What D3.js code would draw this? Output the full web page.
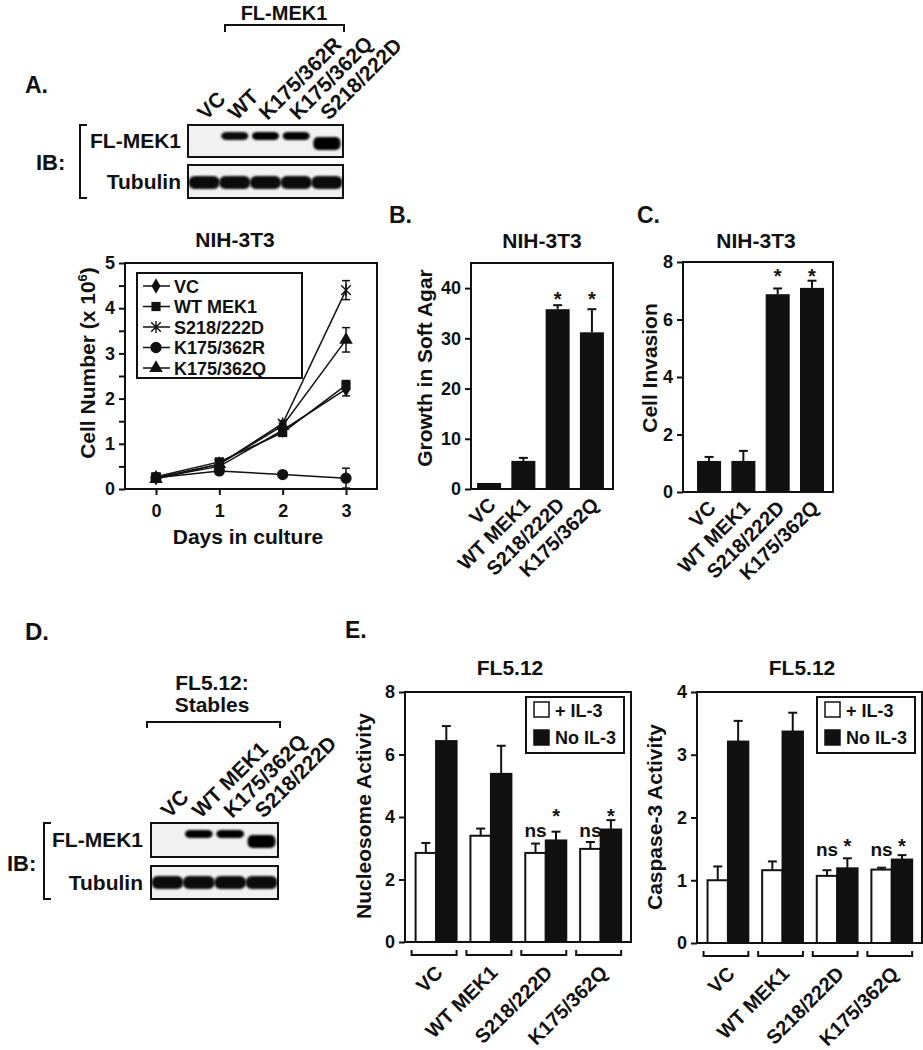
<!DOCTYPE html>
<html><head><meta charset="utf-8">
<script src="https://cdn.jsdelivr.net/npm/d3@7"></script>
<style>
body{margin:0;background:#fff}
svg{display:block}
text{font-family:"Liberation Sans",Arial,sans-serif;font-weight:bold;fill:#111}
</style></head><body>
<svg id="c" width="923" height="1050"></svg>
<script>
// ---------------- DATA ----------------
// Panel A blot
const blotALanes = ["VC","WT","K175/362R","K175/362Q","S218/222D"];
const blotAMek = [0, 0.9, 1, 1, 1];
const blotAShift = [0, 0, 0, 0, 1];
const blotATub = [1, 1, 1, 1, 1];
// Growth curve
const days = [0, 1, 2, 3];
const seriesNames = ["VC","WT MEK1","S218/222D","K175/362R","K175/362Q"];
const growthVC    = [0.25, 0.50, 1.30, 2.21];
const growthWT    = [0.27, 0.60, 1.25, 2.30];
const growthS218  = [0.25, 0.55, 1.45, 4.40];
const growthK175R = [0.25, 0.40, 0.32, 0.24];
const growthK175Q = [0.22, 0.55, 1.40, 3.30];
const errVC    = [0.03, 0.04, 0.06, 0.15];
const errWT    = [0.03, 0.04, 0.06, 0.10];
const errS218  = [0.03, 0.04, 0.06, 0.21];
const errK175R = [0.03, 0.04, 0.04, 0.22];
const errK175Q = [0.03, 0.04, 0.06, 0.27];
const growthTicks = [0, 1, 2, 3, 4, 5];
// B & C
const barCats = ["VC","WT MEK1","S218/222D","K175/362Q"];
const softAgar = [1.2, 5.6, 35.8, 31.2];
const softAgarErr = [0, 0.6, 0.8, 4.6];
const softAgarSig = ["", "", "*", "*"];
const softAgarTicks = [0, 10, 20, 30, 40];
const invasion = [1.08, 1.08, 6.88, 7.10];
const invasionErr = [0.14, 0.35, 0.20, 0.25];
const invasionSig = ["", "", "*", "*"];
const invasionTicks = [0, 2, 4, 6, 8];
// Panel D blot
const blotDLanes = ["VC","WT MEK1","K175/362Q","S218/222D"];
const blotDMek = [0, 1, 1, 1];
const blotDShift = [0, 0, 0, 1];
const blotDTub = [1, 1, 1, 1];
// Panel E
const eCats = ["VC","WT MEK1","S218/222D","K175/362Q"];
const eConds = ["+ IL-3","No IL-3"];
const nucPlus = [2.85, 3.40, 2.85, 2.98];
const nucPlusErr = [0.32, 0.23, 0.30, 0.22];
const nucNo = [6.43, 5.38, 3.25, 3.60];
const nucNoErr = [0.48, 0.90, 0.28, 0.30];
const nucTicks = [0, 2, 4, 6, 8];
const casPlus = [1.00, 1.16, 1.07, 1.17];
const casPlusErr = [0.22, 0.14, 0.09, 0.03];
const casNo = [3.21, 3.37, 1.19, 1.33];
const casNoErr = [0.33, 0.30, 0.16, 0.07];
const casTicks = [0, 1, 2, 3, 4];
const eSigPlus = ["", "", "ns", "ns"];
const eSigNo = ["", "", "*", "*"];

// ---------------- DRAW ----------------
const svg = d3.select("#c");
const INK = "#111";
const defs = svg.append("defs");
defs.append("filter").attr("id","blur").attr("x","-20%").attr("y","-50%").attr("width","140%").attr("height","200%")
  .append("feGaussianBlur").attr("stdDeviation", 1.3);

function txt(g, x, y, s, fs, anchor, rot) {
  const t = g.append("text").attr("x", x).attr("y", y).attr("font-size", fs)
    .attr("text-anchor", anchor || "start").text(s);
  if (rot) t.attr("transform", `rotate(${rot},${x},${y})`);
  return t;
}
function line(g, x1, y1, x2, y2, w) {
  return g.append("line").attr("x1",x1).attr("y1",y1).attr("x2",x2).attr("y2",y2)
    .attr("stroke", INK).attr("stroke-width", w || 2);
}
function yAxis(g, scale, ticks, x, fs, pad) {
  const ax = d3.axisLeft(scale).tickValues(ticks).tickSize(6).tickPadding(pad || 4).tickFormat(d3.format("d"));
  const a = g.append("g").attr("transform", `translate(${x},0)`).call(ax);
  a.attr("font-family", null).attr("font-size", null);
  a.select(".domain").remove();
  a.selectAll("line").attr("stroke", INK).attr("stroke-width", 2);
  a.selectAll("text").attr("font-size", fs).attr("fill", INK);
  return a;
}

// ----- Blot helper -----
function blot(cfg) {
  const g = svg.append("g");
  const x = d3.scaleBand().domain(cfg.lanes).range([cfg.x0, cfg.x1]).padding(0.05);
  [[cfg.fy0, cfg.fy1], [cfg.ty0, cfg.ty1]].forEach(([a, b]) => {
    g.append("rect").attr("x", cfg.x0).attr("y", a).attr("width", cfg.x1 - cfg.x0).attr("height", b - a)
      .attr("fill", "#f1f1f1").attr("stroke", INK).attr("stroke-width", 2);
  });
  g.selectAll(".mek").data(cfg.lanes.filter((d, i) => cfg.mek[i] > 0)).join("rect")
    .attr("x", d => x(d) + 1)
    .attr("width", x.bandwidth() - 2)
    .attr("y", d => { const i = cfg.lanes.indexOf(d); return cfg.shift[i] ? cfg.sy : cfg.ny; })
    .attr("height", d => { const i = cfg.lanes.indexOf(d); return cfg.shift[i] ? cfg.sh : cfg.nh; })
    .attr("rx", 5).attr("fill", "#000")
    .attr("opacity", d => 0.55 + 0.45 * cfg.mek[cfg.lanes.indexOf(d)])
    .attr("filter", "url(#blur)");
  g.selectAll(".tub").data(cfg.lanes).join("rect")
    .attr("x", d => x(d) - 1).attr("width", x.bandwidth() + 2)
    .attr("y", cfg.tby).attr("height", cfg.tbh).attr("rx", 6)
    .attr("fill", "#000").attr("opacity", (d, i) => 0.95 * cfg.tub[i])
    .attr("filter", "url(#blur)");
  cfg.lanes.forEach(d => {
    txt(g, x(d) + x.bandwidth() / 2 + 2, cfg.fy0 - 4, d, cfg.lfs, "start", -45);
  });
  txt(g, cfg.labX, (cfg.fy0 + cfg.fy1) / 2 + 7, "FL-MEK1", 21, "end");
  txt(g, cfg.labX, (cfg.ty0 + cfg.ty1) / 2 + 7, "Tubulin", 21, "end");
  g.append("path").attr("d", `M${cfg.bx + 7},${cfg.fy0}H${cfg.bx}V${cfg.ty1}H${cfg.bx + 7}`)
    .attr("fill", "none").attr("stroke", INK).attr("stroke-width", 2);
  txt(g, cfg.ibX, (cfg.fy1 + cfg.ty0) / 2 + 9, "IB:", 22, "start");
  return g;
}

// ===== Panel A =====
txt(svg, 25, 93, "A.", 23);
txt(svg, 284, 20, "FL-MEK1", 20, "middle");
svg.append("path").attr("d", "M225,32V25H344V32").attr("fill", "none").attr("stroke", INK).attr("stroke-width", 2);
blot({lanes: blotALanes, mek: blotAMek, shift: blotAShift, tub: blotATub,
  x0: 188, x1: 343, fy0: 125, fy1: 157, ty0: 165, ty1: 198,
  ny: 132, nh: 8, sy: 137, sh: 13, tby: 176, tbh: 13,
  lfs: 21, labX: 181, bx: 80, ibX: 36});

// ===== Growth curve =====
(function () {
  const g = svg.append("g");
  const x = d3.scaleLinear().domain([0, 3]).range([156, 346]);
  const y = d3.scaleLinear().domain([0, 5]).range([489, 263]);
  g.append("rect").attr("x", 125).attr("y", 263).attr("width", 252).attr("height", 226)
    .attr("fill", "none").attr("stroke", INK).attr("stroke-width", 2);
  yAxis(g, y, growthTicks, 125, 18, 4);
  const minor = d3.axisLeft(y).tickValues(growthTicks.slice(0, -1).map(d => d + 0.5)).tickSize(6).tickFormat("");
  const m = g.append("g").attr("transform", "translate(125,0)").call(minor);
  m.select(".domain").remove(); m.selectAll("line").attr("stroke", INK).attr("stroke-width", 2);
  const xa = g.append("g").attr("transform", "translate(0,489)")
    .call(d3.axisBottom(x).tickValues(days).tickSize(6).tickPadding(9).tickFormat(d3.format("d")));
  xa.attr("font-family", null).attr("font-size", null);
  xa.select(".domain").remove();
  xa.selectAll("line").attr("stroke", INK).attr("stroke-width", 2);
  xa.selectAll("text").attr("font-size", 18).attr("fill", INK);
  txt(g, 235, 247, "NIH-3T3", 21, "middle");
  txt(g, 248, 544, "Days in culture", 21, "middle");
  const yl = g.append("text").attr("font-size", 21).attr("text-anchor", "middle")
    .attr("transform", "translate(95,363) rotate(-90)");
  yl.append("tspan").text("Cell Number (x 10");
  yl.append("tspan").attr("font-size", 13).attr("dy", -8).text("6");
  yl.append("tspan").attr("dy", 8).text(")");

  const series = [
    {name: seriesNames[0], v: growthVC, e: errVC, sym: "diamond"},
    {name: seriesNames[1], v: growthWT, e: errWT, sym: "square"},
    {name: seriesNames[2], v: growthS218, e: errS218, sym: "star"},
    {name: seriesNames[3], v: growthK175R, e: errK175R, sym: "circle"},
    {name: seriesNames[4], v: growthK175Q, e: errK175Q, sym: "triangle"}
  ];
  function marker(sel, sym) {
    if (sym === "star") {
      const s = 6;
      sel.append("path").attr("d", `M0,${-s}V${s}M${-s * .8},${-s * .8}L${s * .8},${s * .8}M${-s * .8},${s * .8}L${s * .8},${-s * .8}`)
        .attr("stroke", INK).attr("stroke-width", 1.4).attr("fill", "none");
    } else {
      const t = {diamond: d3.symbolDiamond, square: d3.symbolSquare, circle: d3.symbolCircle, triangle: d3.symbolTriangle}[sym];
      const size = {diamond: 70, square: 85, circle: 100, triangle: 80}[sym];
      sel.append("path").attr("d", d3.symbol().type(t).size(size)()).attr("fill", INK);
    }
  }
  const ln = d3.line().x((d, i) => x(days[i])).y(d => y(d));
  series.forEach(s => {
    g.append("path").attr("d", ln(s.v)).attr("fill", "none").attr("stroke", INK).attr("stroke-width", 1.5);
  });
  series.forEach(s => {
    s.v.forEach((v, i) => {
      const cx = x(days[i]);
      line(g, cx, y(v - s.e[i]), cx, y(v + s.e[i]), 1.5);
      line(g, cx - 4, y(v - s.e[i]), cx + 4, y(v - s.e[i]), 1.5);
      line(g, cx - 4, y(v + s.e[i]), cx + 4, y(v + s.e[i]), 1.5);
      const mg = g.append("g").attr("transform", `translate(${cx},${y(v)})`);
      marker(mg, s.sym);
    });
  });
  const lg = g.append("g");
  lg.append("rect").attr("x", 137).attr("y", 273).attr("width", 165).attr("height", 105)
    .attr("fill", "#fff").attr("stroke", INK).attr("stroke-width", 2);
  series.forEach((s, i) => {
    const yy = 286 + i * 20.5;
    line(lg, 143, yy, 170, yy, 1.5);
    marker(lg.append("g").attr("transform", `translate(156,${yy})`), s.sym);
    txt(lg, 174, yy + 6.5, s.name, 18);
  });
})();

// ===== Single bar panels (B, C) =====
function barPanel(c) {
  const g = svg.append("g");
  const x = d3.scaleBand().domain(barCats).range([c.x0, c.x1]).paddingInner(0.3).paddingOuter(c.po).align(c.al);
  const y = d3.scaleLinear().domain([0, c.max]).range([c.yb, c.yt]);
  g.append("rect").attr("x", c.x0).attr("y", c.yt).attr("width", c.x1 - c.x0).attr("height", c.yb - c.yt)
    .attr("fill", "none").attr("stroke", INK).attr("stroke-width", 2);
  yAxis(g, y, c.ticks, c.x0, 18, 4);
  g.selectAll(".bar").data(barCats).join("rect")
    .attr("x", d => x(d)).attr("width", x.bandwidth())
    .attr("y", (d, i) => y(c.vals[i])).attr("height", (d, i) => c.yb - y(c.vals[i]))
    .attr("fill", INK);
  barCats.forEach((d, i) => {
    const cx = x(d) + x.bandwidth() / 2;
    if (c.errs[i] > 0) {
      line(g, cx, y(c.vals[i]), cx, y(c.vals[i] + c.errs[i]), 2);
      line(g, cx - 4.5, y(c.vals[i] + c.errs[i]), cx + 4.5, y(c.vals[i] + c.errs[i]), 2);
    }
    if (c.sig[i]) txt(g, cx, c.starY, c.sig[i], 20, "middle");
    txt(g, cx + 8, c.yb + 17, d, 20, "end", -45);
  });
  txt(g, c.tx, 248, "NIH-3T3", 21, "middle");
  txt(g, c.lx, c.ly, c.ylab, 21, "middle", -90);
  txt(g, c.px, 223, c.letter, 23);
}
barPanel({x0: 471, x1: 613, yt: 263, yb: 489, max: 45, ticks: softAgarTicks, vals: softAgar, errs: softAgarErr,
  sig: softAgarSig, po: 0.22, al: 0.4, starY: 306, tx: 542, lx: 432, ly: 368, ylab: "Growth in Soft Agar", px: 389, letter: "B."});
barPanel({x0: 683, x1: 833, yt: 262, yb: 492, max: 8, ticks: invasionTicks, vals: invasion, errs: invasionErr,
  sig: invasionSig, po: 0.335, al: 0.61, starY: 283, tx: 756, lx: 657, ly: 368, ylab: "Cell Invasion", px: 637, letter: "C."});

// ===== Panel D =====
txt(svg, 25, 640, "D.", 24);
txt(svg, 212, 690, "FL5.12:", 21, "middle");
txt(svg, 212, 712, "Stables", 21, "middle");
svg.append("path").attr("d", "M147,728V722H280V728").attr("fill", "none").attr("stroke", INK).attr("stroke-width", 2);
blot({lanes: blotDLanes, mek: blotDMek, shift: blotDShift, tub: blotDTub,
  x0: 151, x1: 278, fy0: 823, fy1: 857, ty0: 866, ty1: 899,
  ny: 830, nh: 8, sy: 835, sh: 13, tby: 876, tbh: 13,
  lfs: 21, labX: 143, bx: 44, ibX: 7});

// ===== Panel E =====
txt(svg, 345, 638, "E.", 23);
function groupPanel(c) {
  const g = svg.append("g");
  const x = d3.scaleBand().domain(eCats).range([c.x0, c.x1]).paddingInner(0.18).paddingOuter(0.15).align(0.4);
  const xi = d3.scaleBand().domain(eConds).range([4, x.bandwidth()]);
  const y = d3.scaleLinear().domain([0, c.max]).range([c.yb, c.yt]);
  g.append("rect").attr("x", c.x0).attr("y", c.yt).attr("width", c.x1 - c.x0).attr("height", c.yb - c.yt)
    .attr("fill", "none").attr("stroke", INK).attr("stroke-width", 2);
  yAxis(g, y, c.ticks, c.x0, 18, 4);
  const sets = [{v: c.plus, e: c.plusErr, fill: "#fff", cond: eConds[0], sig: eSigPlus, sy: c.nsY},
                {v: c.no, e: c.noErr, fill: INK, cond: eConds[1], sig: eSigNo, sy: c.starY}];
  eCats.forEach((d, i) => {
    sets.forEach(s => {
      const bx = x(d) + xi(s.cond), bw = xi.bandwidth();
      const cx = bx + bw / 2;
      line(g, cx, y(s.v[i]), cx, y(s.v[i] + s.e[i]), 2);
      line(g, cx - 4.5, y(s.v[i] + s.e[i]), cx + 4.5, y(s.v[i] + s.e[i]), 2);
      g.append("rect").attr("x", bx).attr("width", bw).attr("y", y(s.v[i])).attr("height", c.yb - y(s.v[i]))
        .attr("fill", s.fill).attr("stroke", INK).attr("stroke-width", 2);
      if (s.sig[i]) txt(g, cx, y(s.sy), s.sig[i], s.sig[i] === "*" ? 20 : 19, "middle");
    });
    const b0 = x(d), b1 = x(d) + x.bandwidth();
    g.append("path").attr("d", `M${b0},${c.yb + 8}V${c.yb + 13}H${b1}V${c.yb + 8}`)
      .attr("fill", "none").attr("stroke", INK).attr("stroke-width", 2);
    txt(g, (b0 + b1) / 2 + 10, c.yb + 32, d, 20, "end", -45);
  });
  const lx = c.x1 - 105, ly = c.yt + 5;
  g.append("rect").attr("x", lx).attr("y", ly).attr("width", 98).attr("height", 56)
    .attr("fill", "#fff").attr("stroke", INK).attr("stroke-width", 2);
  eConds.forEach((cd, i) => {
    g.append("rect").attr("x", lx + 8).attr("y", ly + 5 + i * 28).attr("width", 15).attr("height", 15)
      .attr("fill", i ? INK : "#fff").attr("stroke", INK).attr("stroke-width", 1.5);
    txt(g, lx + 29, ly + 20 + i * 27, cd, 18);
  });
  txt(g, c.tx, 675, "FL5.12", 21, "middle");
  txt(g, c.lx, c.ly, c.ylab, 21, "middle", -90);
}
groupPanel({x0: 405, x1: 631, yt: 692, yb: 942, max: 8, ticks: nucTicks, plus: nucPlus, plusErr: nucPlusErr,
  no: nucNo, noErr: nucNoErr, nsY: 3.35, starY: 3.8, tx: 510, lx: 371, ly: 816, ylab: "Nucleosome Activity"});
groupPanel({x0: 697, x1: 922, yt: 692, yb: 943, max: 4, ticks: casTicks, plus: casPlus, plusErr: casPlusErr,
  no: casNo, noErr: casNoErr, nsY: 1.38, starY: 1.44, tx: 802, lx: 662, ly: 817, ylab: "Caspase-3 Activity"});
</script>
</body></html>
